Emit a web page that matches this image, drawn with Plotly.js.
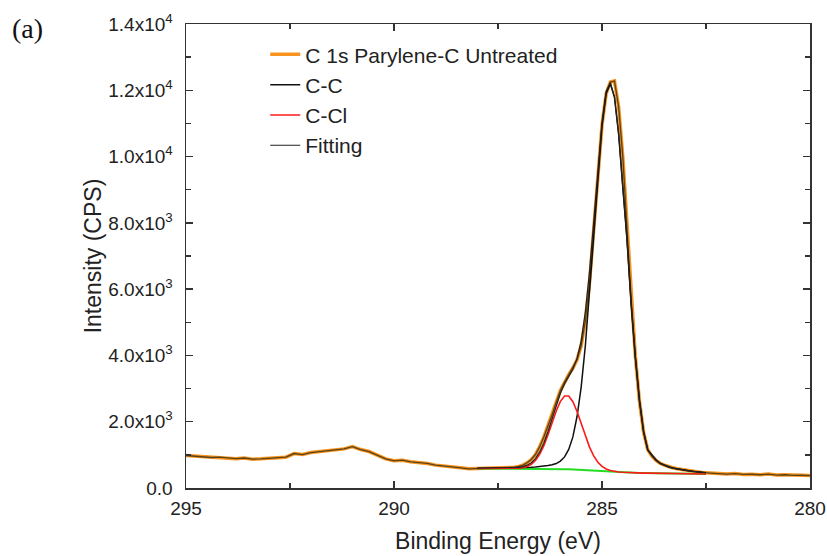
<!DOCTYPE html>
<html>
<head>
<meta charset="utf-8">
<script src="https://cdn.plot.ly/plotly-3.0.1.min.js"></script>
<style>html,body{margin:0;padding:0;background:#fff}#chart{width:827px;height:556px}</style>
</head>
<body>
<div id="chart"></div>
<script>
// Measured spectrum (binding energy in eV, intensity in CPS)
const dataEnergy = [
  295.0,294.8,294.6,294.4,294.2,294.0,293.8,293.6,293.4,293.2,293.0,292.8,292.6,292.4,292.2,292.0,291.8,291.6,291.4,291.2,
  291.0,290.8,290.6,290.4,290.2,290.0,289.8,289.6,289.4,289.2,289.0,288.8,288.6,288.4,288.2,288.0,
  287.9,287.8,287.7,287.6,287.5,287.4,287.3,287.2,287.1,287.0,286.9,286.8,286.7,286.6,286.5,286.4,286.3,286.2,286.1,286.0,
  285.9,285.8,285.7,285.6,285.5,285.4,285.3,285.2,285.1,285.0,284.9,284.8,284.7,284.6,284.5,284.4,284.3,284.2,284.1,284.0,
  283.9,283.8,283.7,283.6,283.5,283.4,283.3,283.2,283.1,283.0,
  282.8,282.6,282.4,282.2,282.0,281.8,281.6,281.4,281.2,281.0,280.8,280.6,280.4,280.2,280.0
];
const dataIntensity = [
  980,965,955,920,930,900,885,905,870,880,890,910,930,1040,1010,1070,1100,1130,1150,1180,
  1250,1160,1100,990,880,820,840,790,770,740,690,670,630,610,580,585,
  595,605,598,592,605,600,610,615,625,650,690,760,860,1010,1240,1530,1860,2210,2590,2940,
  3200,3420,3620,3870,4300,5050,6200,7800,9400,10950,11900,12250,12280,11500,10000,7900,5700,4000,2620,1680,
  1150,960,830,740,690,640,610,580,560,540,
  490,470,450,430,420,435,410,415,400,420,390,400,380,385,375
];

// Fitted components (energy grid of the fit region)
const fitEnergy = [
  288.0,287.9,287.8,287.7,287.6,287.5,287.4,287.3,287.2,287.1,287.0,286.9,286.8,286.7,286.6,286.5,286.4,286.3,286.2,286.1,
  286.0,285.9,285.8,285.7,285.6,285.5,285.4,285.3,285.2,285.1,285.0,284.9,284.8,284.7,284.6,284.5,284.4,284.3,284.2,284.1,
  284.0,283.9,283.8,283.7,283.6,283.5,283.4,283.3,283.2,283.1,283.0,282.9,282.8,282.7,282.6,282.5
];
const backgroundCPS = [
  588,588,588,587,587,586,586,585,585,584,583,582,581,580,579,578,577,576,575,573,
  571,568,565,561,557,552,546,539,531,523,514,505,495,486,478,471,465,460,456,453,
  450,448,446,445,443,441,439,437,435,433,431,429,427,425,423,421
];
const ccCPS = [
  596,597,598,598,599,600,602,603,606,608,611,615,620,626,634,644,657,676,700,738,
  811,938,1165,1541,2157,3052,4296,5839,7581,9273,10914,11905,12195,11786,10678,9071,7515,5560,3956,2653,
  1700,1148,1006,845,743,681,634,602,575,553,531,514,499,485,473,463
];
const cclCPS = [
  588,588,588,587,587,586,586,585,585,589,597,614,650,717,833,1015,1271,1597,1965,2325,
  2615,2777,2774,2605,2309,1942,1567,1233,968,777,651,574,527,500,483,473,465,460,456,453,
  450,448,446,445,443,441,439,437,435,433,431,429,427,425,423,421
];
const fitCPS = [
  596,597,598,598,599,600,602,603,606,613,625,647,689,763,888,1081,1351,1697,2090,2490,
  2855,3147,3374,3585,3909,4442,5317,6533,8018,9527,11051,11974,12227,11800,10683,9073,7515,5560,3956,2653,
  1700,1148,1006,845,743,681,634,602,575,553,531,514,499,485,473,463
];

const xTickVals = [295, 290, 285, 280];
const xMinorVals = [292.5, 287.5, 282.5];
const yTickVals = [0, 2000, 4000, 6000, 8000, 10000, 12000, 14000];
const yTickText = ['0.0','2.0x10<sup>3</sup>','4.0x10<sup>3</sup>','6.0x10<sup>3</sup>','8.0x10<sup>3</sup>','1.0x10<sup>4</sup>','1.2x10<sup>4</sup>','1.4x10<sup>4</sup>'];
const yMinorVals = [1000, 3000, 5000, 7000, 9000, 11000, 13000];

const FONT = 'Liberation Sans, Arial, Helvetica, sans-serif';

const traces = [
  {x: dataEnergy, y: dataIntensity, type: 'scatter', mode: 'lines', name: 'C 1s Parylene-C Untreated',
   line: {color: '#f7931e', width: 3.5}},
  {x: dataEnergy, y: dataIntensity, type: 'scatter', mode: 'lines', showlegend: false, hoverinfo: 'skip',
   line: {color: '#5a4318', width: 1.3}},
  {x: fitEnergy, y: backgroundCPS, type: 'scatter', mode: 'lines', showlegend: false, name: 'Background',
   line: {color: '#22dd22', width: 2}},
  {x: fitEnergy, y: ccCPS, type: 'scatter', mode: 'lines', name: 'C-C',
   line: {color: '#111111', width: 1.5}},
  {x: fitEnergy, y: cclCPS, type: 'scatter', mode: 'lines', name: 'C-Cl',
   line: {color: '#ff1a1a', width: 1.6}},
  {x: fitEnergy, y: fitCPS, type: 'scatter', mode: 'lines', name: 'Fitting',
   line: {color: '#222222', width: 1.2}}
];

const axisCommon = {
  showline: true, linecolor: '#333', linewidth: 1.5, mirror: 'ticks',
  ticks: 'inside', ticklen: 7, tickwidth: 1.5, tickcolor: '#333',
  showgrid: false, zeroline: false,
  tickfont: {family: FONT, size: 19, color: '#222'}
};

const layout = {
  width: 827, height: 556,
  margin: {l: 186, r: 17, t: 24, b: 68},
  paper_bgcolor: '#ffffff', plot_bgcolor: '#ffffff',
  showlegend: true,
  legend: {x: 0.127, y: 0.978, xanchor: 'left', yanchor: 'top', bgcolor: 'rgba(0,0,0,0)',
           font: {family: FONT, size: 21, color: '#222'}, tracegroupgap: 0},
  xaxis: Object.assign({}, axisCommon, {
    range: [295, 280], tickmode: 'array', tickvals: xTickVals, ticklabelstandoff: 3,
    minor: {tickmode: 'array', tickvals: xMinorVals, ticks: 'inside', ticklen: 5, tickwidth: 1.5, tickcolor: '#333'},
    title: {text: 'Binding Energy (eV)', standoff: 14, font: {family: FONT, size: 23, color: '#222'}}
  }),
  yaxis: Object.assign({}, axisCommon, {
    range: [0, 14000], tickmode: 'array', tickvals: yTickVals, ticktext: yTickText, ticklabelstandoff: 8,
    minor: {tickmode: 'array', tickvals: yMinorVals, ticks: 'inside', ticklen: 5, tickwidth: 1.5, tickcolor: '#333'},
    title: {text: 'Intensity (CPS)', standoff: 0, font: {family: FONT, size: 23, color: '#222'}}
  }),
  annotations: [
    {text: '(a)', xref: 'paper', yref: 'paper', x: -0.282, y: 0.99, xanchor: 'left', yanchor: 'middle',
     showarrow: false, font: {family: 'Liberation Serif, DejaVu Serif, serif', size: 28, color: '#111'}}
  ]
};

Plotly.newPlot('chart', traces, layout, {displayModeBar: false, staticPlot: true});
</script>
</body>
</html>
